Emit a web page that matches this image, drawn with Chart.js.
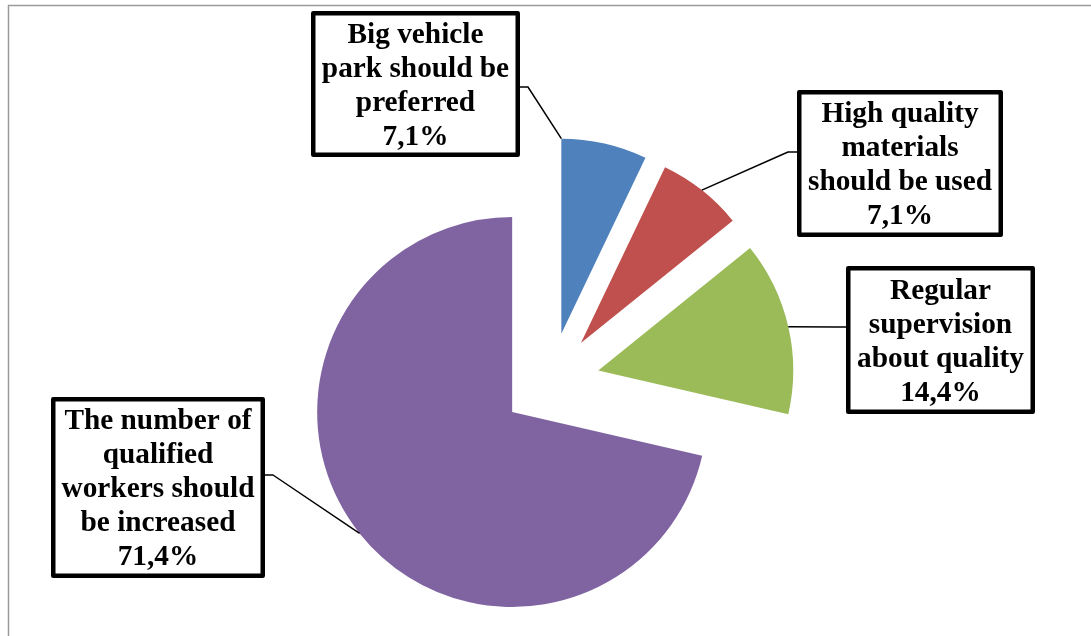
<!DOCTYPE html>
<html>
<head>
<meta charset="utf-8">
<script src="https://cdn.jsdelivr.net/npm/chart.js@4/dist/chart.umd.min.js"></script>
<style>
  html, body { margin: 0; padding: 0; background: #fff; }
  canvas { display: block; }
</style>
</head>
<body>
<canvas id="grafico" width="1091" height="636"></canvas>
<script>
const categories = [
  ["Big vehicle", "park should be", "preferred"],
  ["High quality", "materials", "should be used"],
  ["Regular", "supervision", "about quality"],
  ["The number of", "qualified", "workers should", "be increased"]
];
const values = [7.1, 7.1, 14.4, 71.4];
const colors = ["#4f81bd", "#c0504d", "#9bbb59", "#8064a2"];

// label boxes: rectangle, side the leader leaves from, and where it meets the arc (0 = start, 0.5 = middle)
const labelBoxes = [
  { x: 311, y: 11, w: 209, h: 146, side: "right", lineY: 87, at: 0 },
  { x: 797, y: 90, w: 206, h: 147, side: "left", lineY: 152, at: 0.5 },
  { x: 846, y: 266, w: 189, h: 148, side: "left", lineY: 327, at: 0.5 },
  { x: 51, y: 397, w: 214, h: 181, side: "right", lineY: 475, at: 0.5 }
];

const explode = 49;

const formatPct = (v) => v.toFixed(1).replace(".", ",") + "%";

// pulls every slice out along its bisector
const explodePlugin = {
  id: "explode",
  afterDatasetsUpdate(chart) {
    chart.getDatasetMeta(0).data.forEach((arc) => {
      const mid = (arc.startAngle + arc.endAngle) / 2;
      arc.x += Math.cos(mid) * explode;
      arc.y += Math.sin(mid) * explode;
    });
  }
};

const framePlugin = {
  id: "frame",
  beforeDraw(chart) {
    const ctx = chart.ctx;
    ctx.save();
    ctx.strokeStyle = "#9a9a9a";
    ctx.lineWidth = 1.5;
    ctx.strokeRect(8.5, 5.5, chart.width + 20, chart.height + 20);
    ctx.restore();
  }
};

const calloutPlugin = {
  id: "callouts",
  afterDatasetsDraw(chart) {
    const ctx = chart.ctx;
    const arcs = chart.getDatasetMeta(0).data;
    ctx.save();
    arcs.forEach((arc, i) => {
      const box = labelBoxes[i];
      const ang = arc.startAngle + (arc.endAngle - arc.startAngle) * box.at;
      const ax = arc.x + Math.cos(ang) * arc.outerRadius;
      const ay = arc.y + Math.sin(ang) * arc.outerRadius;
      const edgeX = box.side === "right" ? box.x + box.w : box.x;
      const elbowX = box.side === "right" ? edgeX + 8 : edgeX - 9;

      ctx.strokeStyle = "#000";
      ctx.lineWidth = 1.5;
      ctx.beginPath();
      ctx.moveTo(ax, ay);
      ctx.lineTo(elbowX, box.lineY);
      ctx.lineTo(edgeX, box.lineY);
      ctx.stroke();

      ctx.fillStyle = "#fff";
      ctx.fillRect(box.x, box.y, box.w, box.h);
      ctx.lineWidth = 4.5;
      ctx.lineJoin = "round";
      ctx.strokeRect(box.x + 2.25, box.y + 2.25, box.w - 4.5, box.h - 4.5);

      const lines = categories[i].concat([formatPct(values[i])]);
      const lh = 34;
      const cx = box.x + box.w / 2;
      const top = box.y + box.h / 2 + 2 - (lines.length - 1) * lh / 2;
      ctx.fillStyle = "#000";
      ctx.font = "bold 29.3px 'Liberation Serif', 'Times New Roman', serif";
      ctx.textAlign = "center";
      ctx.textBaseline = "middle";
      lines.forEach((t, k) => ctx.fillText(t, cx, top + k * lh));
    });
    ctx.restore();
  }
};

new Chart(document.getElementById("grafico"), {
  type: "pie",
  data: {
    labels: categories,
    datasets: [{
      data: values,
      backgroundColor: colors,
      borderWidth: 0,
      radius: 195
    }]
  },
  options: {
    responsive: false,
    animation: false,
    events: [],
    layout: { padding: { left: 20, right: 10, top: 137, bottom: 10 } },
    plugins: {
      legend: { display: false },
      tooltip: { enabled: false }
    }
  },
  plugins: [framePlugin, explodePlugin, calloutPlugin]
});
</script>
</body>
</html>
